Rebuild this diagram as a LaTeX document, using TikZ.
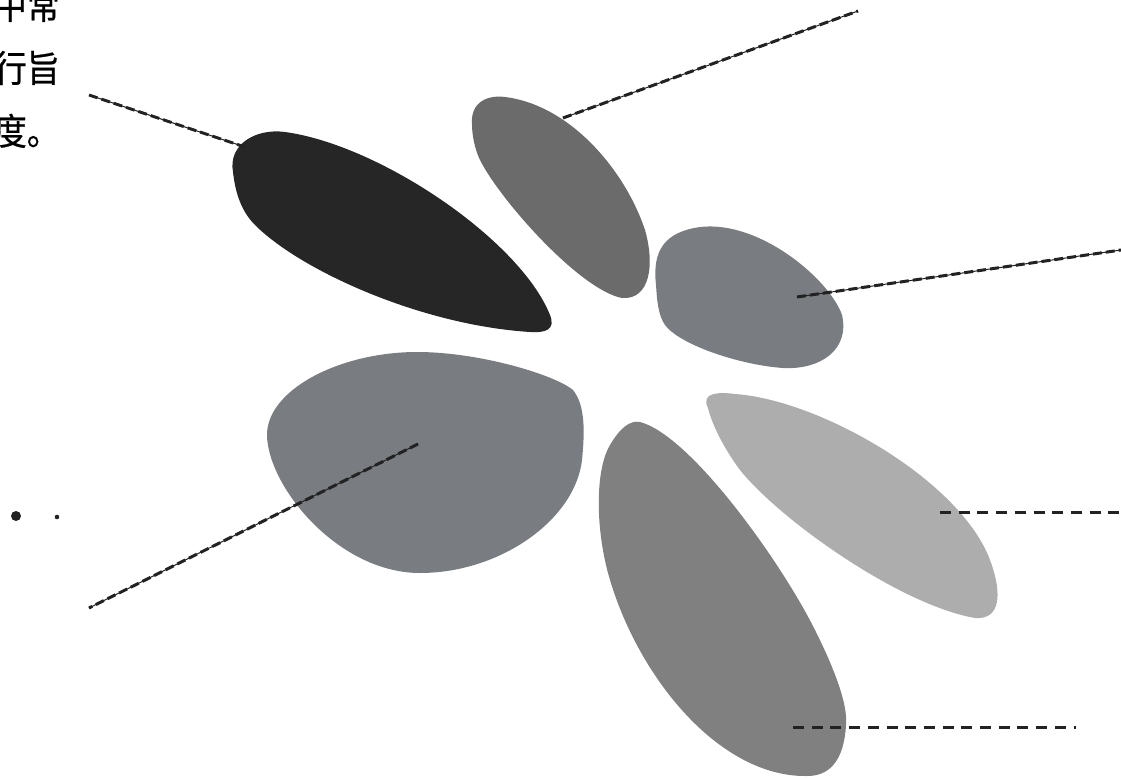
\documentclass[tikz,border=0pt]{standalone}
\usepackage{graphicx}
\usepackage{fontspec}
\newfontfamily\cjk[FakeBold=0.6]{Noto Sans CJK SC}
\definecolor{pA}{HTML}{262626}
\definecolor{pB}{HTML}{6B6B6B}
\definecolor{pC}{HTML}{797C80}
\definecolor{pD}{HTML}{808080}
\definecolor{pE}{HTML}{ADADAD}
\definecolor{ink}{HTML}{222222}
\tikzset{
  petal/.style={fill=#1, draw=none},
  leader/.style={draw=ink, line width=1pt,
    postaction={draw=ink, line width=3pt, dash pattern=on 9pt off 4pt}},
  hleader/.style={draw=ink, line width=3pt, dash pattern=on 11pt off 7.7pt},
  cjktext/.style={anchor=base east, inner sep=0pt, font=\cjk\fontsize{33}{33}\selectfont},
}
\newcommand{\tallcjk}[1]{\scalebox{1}[1.12]{#1}}
\begin{document}
\begin{tikzpicture}[x=1pt,y=-1pt]
\useasboundingbox (0,0) rectangle (1121,778);
% petals
\path[petal=pA] (233,172) .. controls (228,145) and (255,128) .. (285,132)
  .. controls (380,145) and (520,240) .. (550,315)
  .. controls (556,330) and (545,333) .. (530,332)
  .. controls (420,325) and (300,270) .. (255,225)
  .. controls (240,210) and (235,190) .. (233,172) -- cycle;
\path[petal=pB] (472,125) .. controls (470,100) and (490,95) .. (505,97)
  .. controls (570,105) and (625,170) .. (645,230)
  .. controls (655,265) and (650,300) .. (622,298)
  .. controls (580,290) and (500,200) .. (480,160)
  .. controls (475,150) and (472,135) .. (472,125) -- cycle;
\path[petal=pC] (656,285) .. controls (652,250) and (665,232) .. (700,227)
  .. controls (760,220) and (830,280) .. (842,315)
  .. controls (850,350) and (820,370) .. (783,368)
  .. controls (740,365) and (680,345) .. (665,325)
  .. controls (658,315) and (657,300) .. (656,285) -- cycle;
\path[petal=pC] (267,437) .. controls (265,390) and (340,352) .. (417,352)
  .. controls (480,352) and (555,375) .. (573,390)
  .. controls (585,405) and (585,430) .. (582,460)
  .. controls (575,520) and (500,573) .. (420,573)
  .. controls (340,573) and (270,490) .. (267,437) -- cycle;
\path[petal=pD] (640,422) .. controls (690,435) and (780,560) .. (815,630)
  .. controls (835,670) and (848,705) .. (846,725)
  .. controls (844,760) and (830,777) .. (805,776)
  .. controls (720,776) and (640,680) .. (610,580)
  .. controls (595,530) and (595,470) .. (610,445)
  .. controls (620,428) and (630,420) .. (640,422) -- cycle;
\path[petal=pE] (708,408) .. controls (700,392) and (720,392) .. (735,394)
  .. controls (820,400) and (960,480) .. (990,560)
  .. controls (1003,595) and (1000,620) .. (975,618)
  .. controls (900,605) and (780,520) .. (740,470)
  .. controls (725,450) and (712,425) .. (708,408) -- cycle;
% leader end points
\coordinate (a1) at (89,95);   \coordinate (a2) at (245,147);
\coordinate (b1) at (563,118); \coordinate (b2) at (858,11);
\coordinate (c1) at (797,297); \coordinate (c2) at (1121,250);
\coordinate (d1) at (418,444); \coordinate (d2) at (89,608);
\coordinate (e1) at (940,512); \coordinate (e2) at (1121,512);
\coordinate (f1) at (793,727); \coordinate (f2) at (1076,727);
\draw[leader] (a1) -- (a2);
\draw[leader] (b1) -- (b2);
\draw[leader] (c1) -- (c2);
\draw[leader] (d1) -- (d2);
\draw[hleader] (e1) -- (e2);
\draw[hleader] (f1) -- (f2);
% text (cut at the left edge, as in the reference)
\node[cjktext] (t1) at (60,19) {\tallcjk{中常}};
\node[cjktext] (t2) at (60,82) {\tallcjk{行旨}};
\node[cjktext] (t3) at (60,145) {\tallcjk{度。}};
% bullets
\fill[ink] (16,516) circle (5pt);
\fill[ink] (57,517) circle (2.3pt);
\end{tikzpicture}
\end{document}
